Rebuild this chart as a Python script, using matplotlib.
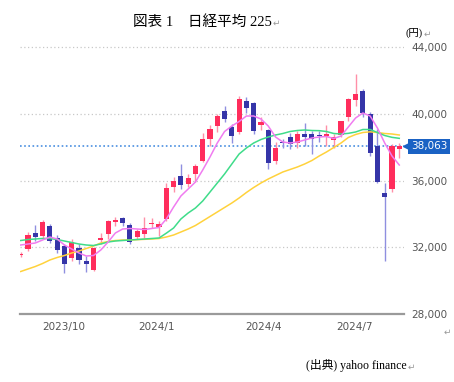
import matplotlib
matplotlib.use("Agg")
import matplotlib.pyplot as plt
import matplotlib.transforms as mtransforms
import numpy as np

# Weekly candles, Nikkei 225, week of 2023/8/21 .. 2024/8/19
opens = [31520, 31900, 32850, 32700, 33280, 32560, 32100, 31350, 31960, 31200,
         30650, 32440, 32800, 33540, 33760, 33340, 32640, 32800, 33380, 33200,
         33700, 35650, 36300, 35800, 36400, 37180, 38480, 39280, 40200, 39250,
         38950, 40800, 40650, 39350, 39050, 37200, 38300, 38600, 38250, 38800,
         38800, 38740, 38700, 38450, 38740, 39850, 40840, 41400, 40000, 38100,
         35250, 35480, 37900]
highs = [31700, 32920, 33340, 33640, 33400, 32740, 32200, 32530, 32200, 31500,
         32000, 32850, 33650, 33850, 33810, 33450, 33080, 33820, 33760, 33570,
         35840, 36240, 36980, 36400, 37000, 38870, 39330, 40000, 40470, 39400,
         41090, 41040, 40700, 39840, 39100, 38340, 38490, 38860, 39000, 39440,
         39000, 39000, 39340, 38800, 39600, 40960, 42430, 41500, 40100, 39100,
         35880, 38200, 38250]
lows = [31400, 31800, 32400, 32500, 32260, 31660, 30480, 31200, 31000, 30540,
        30600, 32200, 32500, 33300, 33300, 32200, 32500, 32540, 33180, 32690,
        33600, 35300, 35500, 35600, 35950, 37100, 38100, 38950, 39500, 38270,
        38800, 40040, 38800, 39040, 36730, 37000, 37940, 37900, 37950, 38100,
        37620, 38300, 38100, 37950, 38600, 39600, 40500, 39800, 37500, 35880,
        31160, 35300, 37340]
closes = [31624, 32711, 32606, 33533, 32402, 31858, 30995, 32315, 31259, 30991,
          31949, 32568, 33585, 33625, 33431, 32307, 32970, 33169, 33464, 33377,
          35577, 35963, 35751, 36158, 36897, 38487, 39098, 39910, 39688, 38707,
          40888, 40369, 38992, 39523, 37068, 37934, 38236, 38229, 38787, 38646,
          38487, 38683, 38814, 38596, 39583, 40912, 41190, 40063, 37667, 35909,
          35025, 38062, 38063]

# moving average lines as drawn (pink: short, green: mid, yellow: long)
ma_short = [32140, 32200, 32260, 32440, 32620, 32500, 32140, 31900, 31660, 31480,
            31510, 31840, 32320, 32860, 33100, 33130, 33100, 33070, 33130, 33190,
            33700, 34420, 35080, 35500, 35920, 36640, 37420, 38260, 38950, 39280,
            39550, 39880, 39880, 39700, 39280, 38620, 38320, 38260, 38320, 38440,
            38560, 38620, 38650, 38530, 38680, 39220, 39760, 40060, 39880, 39160,
            38260, 37480, 36940]
ma_mid = [32410, 32470, 32500, 32530, 32530, 32470, 32380, 32290, 32200, 32140,
          32110, 32200, 32320, 32380, 32410, 32440, 32470, 32500, 32530, 32560,
          32850, 33160, 33700, 34060, 34360, 34780, 35320, 35860, 36400, 37000,
          37600, 37960, 38260, 38470, 38620, 38740, 38830, 38950, 39010, 39040,
          39010, 39000, 38950, 38830, 38800, 38840, 38920, 39070, 39070, 38890,
          38710, 38600, 38540]
ma_long = [30550, 30700, 30850, 31030, 31240, 31390, 31510, 31660, 31780, 31930,
           32080, 32260, 32350, 32410, 32440, 32440, 32460, 32480, 32500, 32530,
           32620, 32740, 32920, 33100, 33310, 33580, 33850, 34120, 34390, 34660,
           34960, 35290, 35590, 35860, 36100, 36310, 36520, 36670, 36820, 37000,
           37210, 37480, 37720, 37990, 38260, 38590, 38770, 38890, 38930, 38890,
           38830, 38800, 38740]

last_price = 38063
y_ticks = [28000, 32000, 36000, 40000, 44000]
x_tick_pos = [5.9, 18.7, 33.3, 45.9]
x_tick_labels = ["2023/10", "2024/1", "2024/4", "2024/7"]

RED = "#ff2d5c"
BLUE = "#3535a8"
TAG = "#1a62c4"
narrow = ["Liberation Sans Narrow", "DejaVu Sans Condensed", "DejaVu Sans"]
jp = ["Liberation Serif", "Noto Sans CJK JP", "DejaVu Sans"]

W, H = 454, 382
fig = plt.figure(figsize=(W / 100, H / 100), dpi=100)
ax = fig.add_axes([20 / W, 1 - 314 / H, 384 / W, 274 / H])

o = np.array(opens)
c = np.array(closes)
hi = np.array(highs)
lw_ = np.array(lows)
x = np.arange(len(c))
up = c >= o
lo = np.minimum(o, c)
hgt = np.maximum(np.abs(c - o), 70)

# candles
ax.vlines(x[up], lw_[up], hi[up], color="#ff8fa8", lw=1, zorder=2)
ax.vlines(x[~up], lw_[~up], hi[~up], color="#8f8fe0", lw=1, zorder=2)
ax.bar(x[up], hgt[up], bottom=lo[up], width=0.7, color=RED, zorder=3)
ax.bar(x[~up], hgt[~up], bottom=lo[~up], width=0.7, color=BLUE, zorder=3)

# moving averages
ax.plot(x, ma_long, color="#ffd23c", lw=1.1, zorder=4)
ax.plot(x, ma_mid, color="#3fdc8a", lw=1.1, zorder=4)
ax.plot(x, ma_short, color="#f07cf0", lw=1.1, zorder=5)

ax.axhline(last_price, color="#4a8fe0", lw=1.2, ls=(0, (1, 1.5)), zorder=1)

ax.set_xlim(-0.1, 52.65)
ax.set_ylim(28000, 44440)
ax.set_yticks(y_ticks)
ax.set_yticklabels([f"{v:,}" for v in y_ticks], family=narrow)
ax.yaxis.tick_right()
ax.grid(axis="y", color="#c8c8c8", lw=0.9, ls=(0, (1, 2)), zorder=0)
ax.set_xticks(x_tick_pos)
ax.set_xticklabels(x_tick_labels, family=narrow)
ax.tick_params(axis="both", length=0, labelsize=7.5, labelcolor="#555555", pad=6)
ax.tick_params(axis="y", pad=5)
for s in ["top", "left", "right"]:
    ax.spines[s].set_visible(False)
ax.spines["bottom"].set_color("#9a9a9a")
ax.spines["bottom"].set_linewidth(1.6)

# current price tag (small arrow + box)
tr = mtransforms.blended_transform_factory(ax.transAxes, ax.transData)
ax.plot([1.0 + 3 / 384], [last_price], marker="<", ms=6, color=TAG,
        transform=tr, clip_on=False, zorder=6)
ax.text(1.0 + 7 / 384, last_price, f"{last_price:,}", transform=tr, ha="left",
        va="center", fontsize=7.5, color="white", family=narrow, clip_on=False,
        zorder=7, bbox=dict(boxstyle="square,pad=0.25", fc=TAG, ec="none"))


def ftext(px, py, s, **kw):
    fig.text(px / W, 1 - py / H, s, **kw)


ftext(272, 22, "図表 1\u3000日経平均 225", ha="right", va="center", fontsize=10.5, family=jp)
ftext(273, 23, "↵", ha="left", va="center", fontsize=6.5, color="#999999")
ftext(405, 33, "(円)", ha="left", va="center", fontsize=7.5, family=jp)
ftext(424, 34, "↵", ha="left", va="center", fontsize=6.5, color="#999999")
ftext(444, 332, "↵", ha="left", va="center", fontsize=6.5, color="#999999")
ftext(407, 366, "(出典) yahoo finance", ha="right", va="center", fontsize=8.5, family=jp)
ftext(408, 367, "↵", ha="left", va="center", fontsize=6.5, color="#999999")

fig.savefig("out.png", dpi=100)
